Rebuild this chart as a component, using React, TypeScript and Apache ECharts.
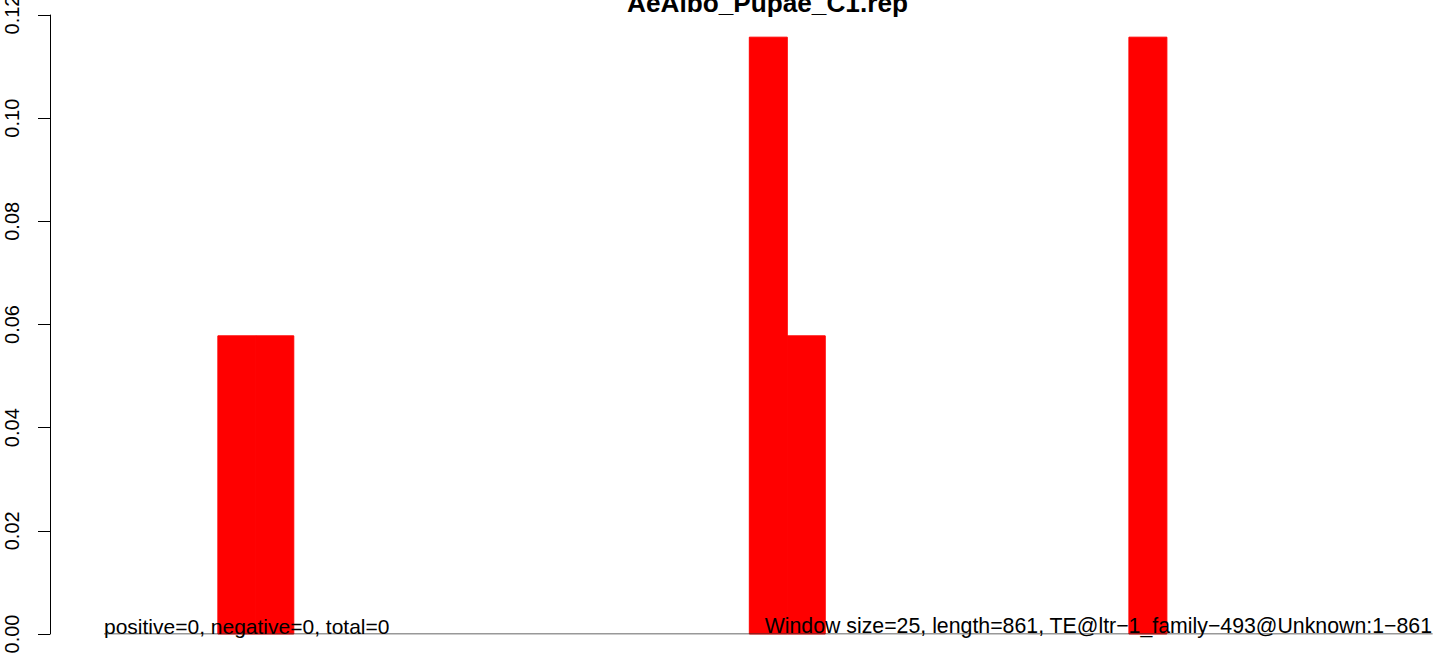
import React, { useEffect, useRef } from "react";
import * as echarts from "echarts";

const titleText = "AeAlbo_Pupae_C1.rep";
const leftNote = "positive=0, negative=0, total=0";
const rightNote = "Window size=25, length=861, TE@ltr\u22121_family\u2212493@Unknown:1\u2212861";
const binWidth = 25;
const binStarts = [
  0, 25, 50, 75, 100, 125, 150, 175, 200, 225, 250, 275, 300, 325, 350, 375, 400, 425,
  450, 475, 500, 525, 550, 575, 600, 625, 650, 675, 700, 725, 750, 775, 800, 825, 850,
];
const density = [
  0, 0, 0, 0.0578, 0.0578, 0, 0, 0, 0, 0, 0, 0, 0, 0, 0, 0, 0, 0.1157,
  0.0578, 0, 0, 0, 0, 0, 0, 0, 0, 0.1157, 0, 0, 0, 0, 0, 0, 0,
];
const yTicks = [0, 0.02, 0.04, 0.06, 0.08, 0.1, 0.12];
const baseLineEnd = 875;

const FONT = "'Liberation Sans', Arial, Helvetica, sans-serif";

export default function App() {
  const ref = useRef<HTMLDivElement>(null);
  useEffect(() => {
    if (!ref.current) return;
    const chart = echarts.init(ref.current, undefined, { renderer: "svg" });
    const barData = binStarts.map((s, i) => [s, s + binWidth, density[i]]);
    chart.setOption({
      animation: false,
      backgroundColor: "#ffffff",
      grid: {
        left: 50,
        top: 15,
        width: 1387,
        height: 619,
        containLabel: false,
        outerBoundsMode: "none",
      },
      xAxis: {
        type: "value",
        min: -35.56,
        max: 877.9,
        show: false,
      },
      yAxis: {
        type: "value",
        min: yTicks[0],
        max: yTicks[yTicks.length - 1],
        interval: 0.02,
        axisLine: { show: true, onZero: false, lineStyle: { color: "#000", width: 1 } },
        axisTick: { show: true, length: 12, lineStyle: { color: "#000", width: 1 } },
        splitLine: { show: false },
        axisLabel: {
          rotate: 90,
          margin: 28,
          fontSize: 20,
          fontFamily: FONT,
          color: "#000",
          hideOverlap: false,
          formatter: (v: number) => v.toFixed(2),
        },
      },
      series: [
        {
          type: "custom",
          data: barData,
          encode: { x: [0, 1], y: 2 },
          clip: false,
          renderItem: (params: any, api: any) => {
            const x0 = api.value(0);
            const x1 = api.value(1);
            const h = api.value(2);
            if (!h) return null;
            const p0 = api.coord([x0, h]);
            const p1 = api.coord([x1, 0]);
            return {
              type: "rect",
              shape: { x: p0[0], y: p0[1], width: p1[0] - p0[0], height: p1[1] - p0[1] },
              style: { fill: "#ff0000", stroke: "#ff0000", lineWidth: 1 },
            };
          },
          z: 2,
        },
        {
          type: "line",
          data: [
            [0, 0],
            [baseLineEnd, 0],
          ],
          symbol: "none",
          lineStyle: { color: "#333", width: 1 },
          z: 3,
        },
      ],
      graphic: [
        {
          type: "text",
          x: 767.5,
          y: 3,
          z: 10,
          style: {
            text: titleText,
            font: `bold 26.2px ${FONT}`,
            fill: "#000",
            textAlign: "center",
            textVerticalAlign: "middle",
          },
        },
        {
          type: "text",
          x: 104,
          y: 626,
          z: 10,
          style: {
            text: leftNote,
            font: `21px ${FONT}`,
            fill: "#000",
            textAlign: "left",
            textVerticalAlign: "middle",
          },
        },
        {
          type: "text",
          x: 1432,
          y: 626,
          z: 10,
          style: {
            text: rightNote,
            font: `21.3px ${FONT}`,
            fill: "#000",
            textAlign: "right",
            textVerticalAlign: "middle",
          },
        },
      ],
    });
    return () => chart.dispose();
  }, []);
  return (
    <div
      ref={ref}
      style={{ position: "fixed", left: 0, top: 0, width: 1444, height: 656, background: "#fff" }}
    />
  );
}
